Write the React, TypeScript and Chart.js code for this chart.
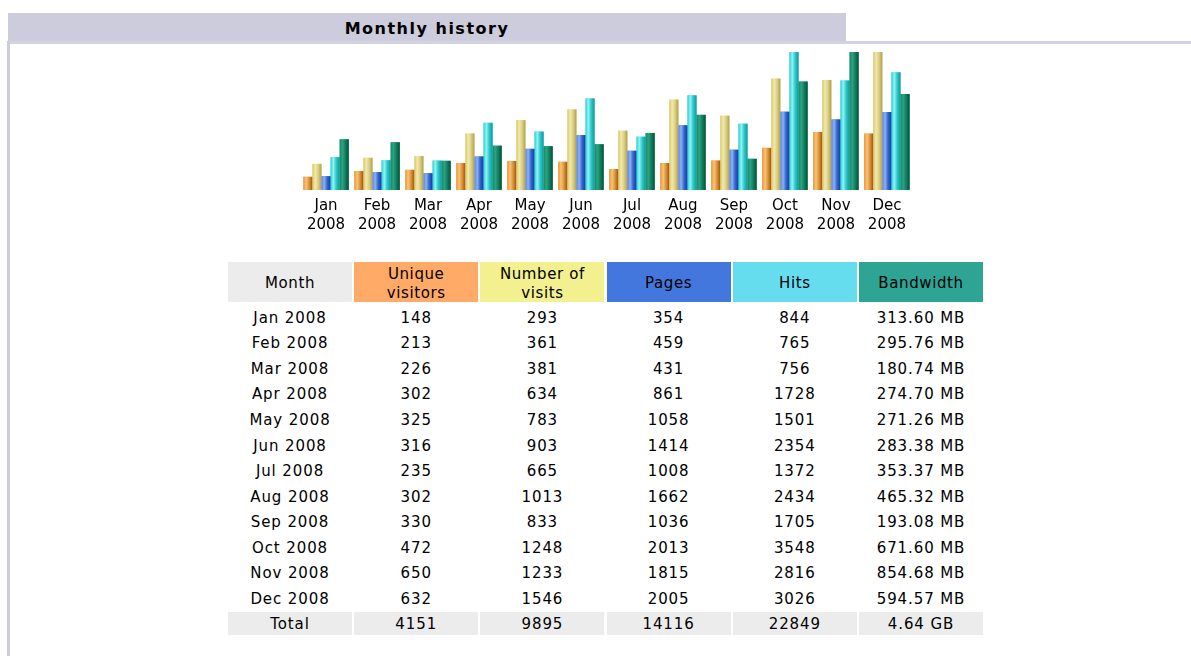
import React, { useEffect, useRef } from "react";
import { Chart, registerables } from "chart.js";

Chart.register(...registerables);

const monthShort = ["Jan", "Feb", "Mar", "Apr", "May", "Jun", "Jul", "Aug", "Sep", "Oct", "Nov", "Dec"];
const year = "2008";
const uniqueVisitors = [148, 213, 226, 302, 325, 316, 235, 302, 330, 472, 650, 632];
const visits = [293, 361, 381, 634, 783, 903, 665, 1013, 833, 1248, 1233, 1546];
const pages = [354, 459, 431, 861, 1058, 1414, 1008, 1662, 1036, 2013, 1815, 2005];
const hits = [844, 765, 756, 1728, 1501, 2354, 1372, 2434, 1705, 3548, 2816, 3026];
const bandwidthMB = [313.6, 295.76, 180.74, 274.7, 271.26, 283.38, 353.37, 465.32, 193.08, 671.6, 854.68, 594.57];
const headers = ["Month", "Unique visitors", "Number of visits", "Pages", "Hits", "Bandwidth"];
const totals = ["Total", "4151", "9895", "14116", "22849", "4.64 GB"];

const headerColors = ["#ECECEC", "#FFAA66", "#F3F08F", "#4477DD", "#66DDEE", "#2EA495"];

const gradients: string[][] = [
  ["#E39530", "#F8C47C", "#E09438", "#9A560E"],
  ["#D4C46C", "#F2EAAA", "#DCD086", "#AE9F50"],
  ["#5A86E0", "#8FB0F2", "#3566CF", "#0E3FA0"],
  ["#2ECACC", "#8EF6F6", "#30C8CA", "#0F9799"],
  ["#128A64", "#2EA283", "#118060", "#005434"],
];

const gradientPlugin = {
  id: "cylGradient",
  afterDatasetsDraw(chart: any) {
    const ctx = chart.ctx;
    chart.data.datasets.forEach((ds: any, di: number) => {
      const meta = chart.getDatasetMeta(di);
      const stops = gradients[di];
      meta.data.forEach((el: any) => {
        const left = el.x - el.width / 2;
        const g = ctx.createLinearGradient(left, 0, left + el.width, 0);
        g.addColorStop(0, stops[0]);
        g.addColorStop(0.3, stops[1]);
        g.addColorStop(0.62, stops[2]);
        g.addColorStop(1, stops[3]);
        ctx.save();
        ctx.fillStyle = g;
        ctx.fillRect(left, el.y, el.width, el.base - el.y);
        ctx.restore();
      });
    });
  },
};

function fmtMB(v: number) {
  return v.toFixed(2) + " MB";
}

export default function App() {
  const ref = useRef<HTMLCanvasElement | null>(null);
  useEffect(() => {
    if (!ref.current) return;
    const chart = new Chart(ref.current, {
      type: "bar",
      data: {
        labels: monthShort.map((m) => [m, year]),
        datasets: [
          { label: "Unique visitors", data: uniqueVisitors, yAxisID: "yv", backgroundColor: headerColors[1] },
          { label: "Number of visits", data: visits, yAxisID: "yv", backgroundColor: headerColors[2] },
          { label: "Pages", data: pages, yAxisID: "yh", backgroundColor: headerColors[3] },
          { label: "Hits", data: hits, yAxisID: "yh", backgroundColor: headerColors[4] },
          { label: "Bandwidth", data: bandwidthMB, yAxisID: "yb", backgroundColor: headerColors[5] },
        ],
      },
      options: {
        animation: false,
        responsive: false,
        devicePixelRatio: 1,
        layout: { padding: { top: 7, left: 0, right: 0, bottom: 0 } },
        datasets: { bar: { categoryPercentage: 0.89, barPercentage: 1 } },
        plugins: { legend: { display: false }, tooltip: { enabled: false } },
        scales: {
          x: {
            grid: { display: false, drawTicks: false },
            border: { display: false },
            ticks: {
              color: "#000",
              padding: 7,
              maxRotation: 0,
              autoSkip: false,
              font: { family: "DejaVu Sans", size: 15, lineHeight: 1.27 },
            },
            afterFit: (s: any) => {
              s.height = 55;
            },
          },
          yv: { display: false, min: 0, max: Math.max(...visits) },
          yh: { display: false, min: 0, max: Math.max(...hits) },
          yb: { display: false, min: 0, max: Math.max(...bandwidthMB) },
        },
      },
      plugins: [gradientPlugin],
    } as any);
    return () => chart.destroy();
  }, []);

  const colW = 124;
  const gap = 2.2;
  const tableLeft = 228;
  const colLeft = (i: number) => tableLeft + i * (colW + gap);
  const rowTop0 = 305.8;
  const rowH = 25.55;

  const cellText: React.CSSProperties = {
    position: "absolute",
    width: colW,
    textAlign: "center",
    fontSize: 15,
    letterSpacing: 0.9,
    color: "#000",
    whiteSpace: "nowrap",
  };

  const rows = monthShort.map((m, i) => [
    m + " " + year,
    String(uniqueVisitors[i]),
    String(visits[i]),
    String(pages[i]),
    String(hits[i]),
    fmtMB(bandwidthMB[i]),
  ]);

  return (
    <div
      style={{
        position: "absolute",
        left: 0,
        top: 0,
        width: 1191,
        height: 656,
        overflow: "hidden",
        background: "#fff",
        fontFamily: "DejaVu Sans, Verdana, sans-serif",
      }}
    >
      <div
        style={{
          position: "absolute",
          left: 8,
          top: 13,
          width: 838,
          height: 28,
          background: "#CCCCDD",
          textAlign: "center",
          lineHeight: "31px",
          fontWeight: "bold",
          fontSize: 16,
          letterSpacing: 1.5,
          color: "#000",
        }}
      >
        Monthly history
      </div>
      <div style={{ position: "absolute", left: 8, top: 41, width: 1183, height: 3, background: "#D3D3DF" }} />
      <div style={{ position: "absolute", left: 7, top: 41, width: 3, height: 615, background: "#CCCCDD" }} />

      <canvas
        ref={ref}
        width={613}
        height={200}
        style={{ position: "absolute", left: 300, top: 45, width: 613, height: 200 }}
      />

      {headers.map((h, i) => (
        <div
          key={"h" + i}
          style={{
            ...cellText,
            left: colLeft(i),
            top: 262,
            height: 40,
            paddingTop: 3,
            background: headerColors[i],
            display: "flex",
            alignItems: "center",
            justifyContent: "center",
            whiteSpace: "normal",
            lineHeight: "19px",
            paddingLeft: 16,
            paddingRight: 16,
            boxSizing: "border-box",
            letterSpacing: 0.6,
          }}
        >
          {h}
        </div>
      ))}

      {rows.map((r, ri) =>
        r.map((t, ci) => (
          <div
            key={"r" + ri + "c" + ci}
            style={{
              ...cellText,
              left: colLeft(ci),
              top: rowTop0 + ri * rowH,
              height: rowH,
              lineHeight: rowH + "px",
            }}
          >
            {t}
          </div>
        ))
      )}

      {totals.map((t, ci) => (
        <div
          key={"t" + ci}
          style={{
            ...cellText,
            left: colLeft(ci),
            top: 612,
            height: 23,
            lineHeight: "24px",
            background: "#ECECEC",
          }}
        >
          {t}
        </div>
      ))}
    </div>
  );
}
